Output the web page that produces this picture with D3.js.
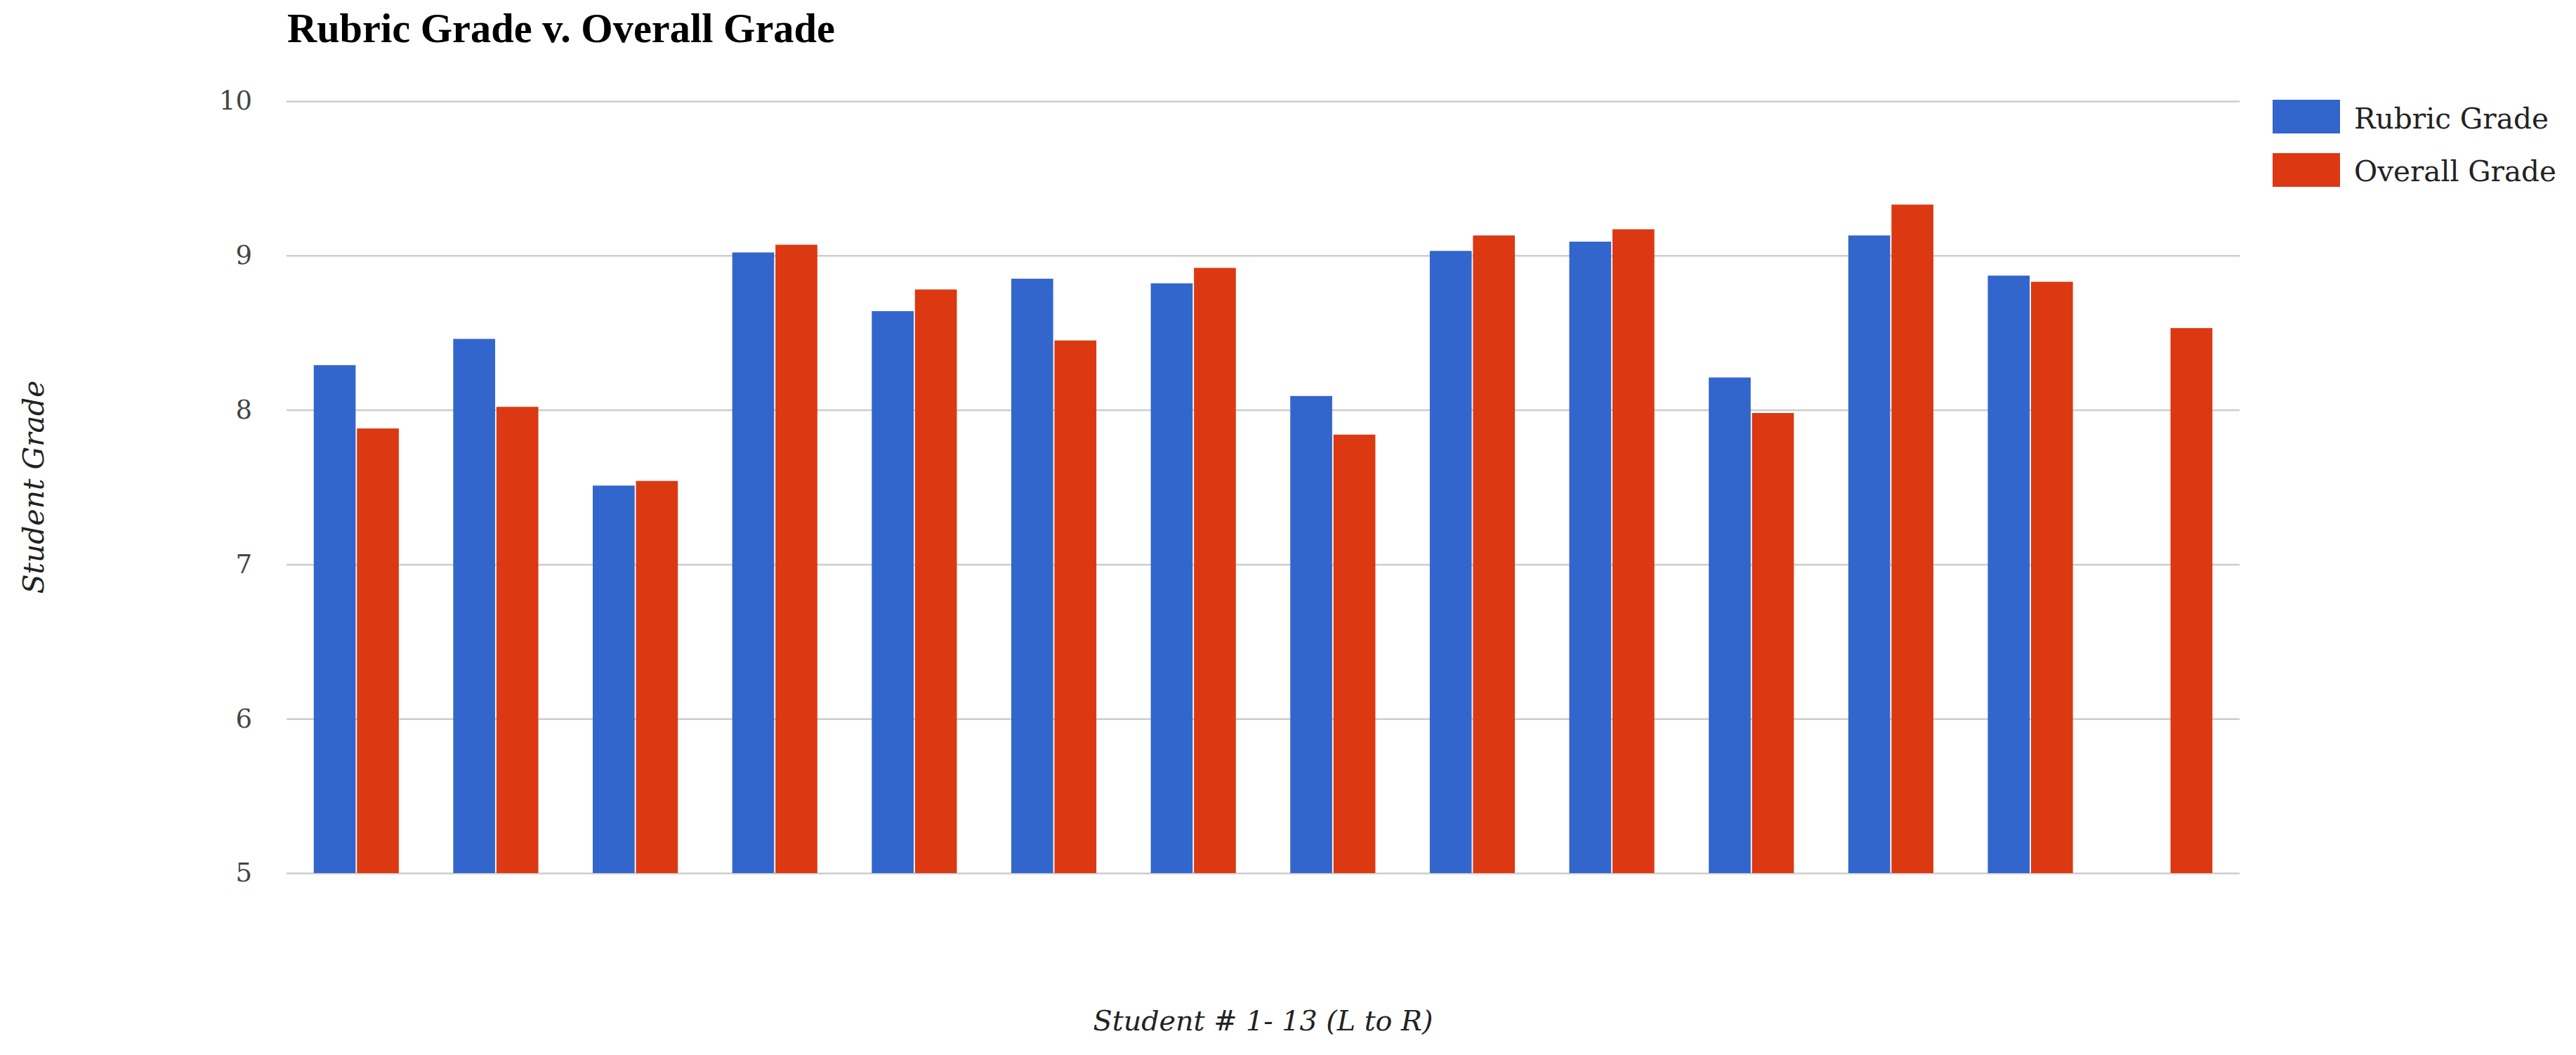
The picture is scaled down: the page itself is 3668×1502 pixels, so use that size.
<!DOCTYPE html>
<html>
<head>
<meta charset="utf-8">
<script src="https://cdn.jsdelivr.net/npm/d3@7"></script>
<style>
  html, body { margin: 0; padding: 0; background: #ffffff; }
  svg { display: block; }
</style>
</head>
<body>
<svg id="chart" width="3668" height="1502"></svg>
<script>
// ---- data ----
const categories = ["1","2","3","4","5","6","7","8","9","10","11","12","13","14"];
const seriesNames = ["Rubric Grade", "Overall Grade"];
const rubricGrade = [8.29, 8.46, 7.51, 9.02, 8.64, 8.85, 8.82, 8.09, 9.03, 9.09, 8.21, 9.13, 8.87, null];
const overallGrade = [7.88, 8.02, 7.54, 9.07, 8.78, 8.45, 8.92, 7.84, 9.13, 9.17, 7.98, 9.33, 8.83, 8.53];
const yTicks = [5, 6, 7, 8, 9, 10];
const titleText = "Rubric Grade v. Overall Grade";
const xTitleText = "Student # 1- 13 (L to R)";
const yTitleText = "Student Grade";

// ---- layout ----
const W = 3668, H = 1502;
const plot = { left: 408, right: 3189, top: 144, bottom: 1243 };
const colors = ["#3366cc", "#dc3912"];
const serif = "'DejaVu Serif', Georgia, serif";

const svg = d3.select("#chart");

function fitText(sel, targetWidth) {
  const node = sel.node();
  const fs = parseFloat(sel.attr("font-size"));
  const w = node.getComputedTextLength();
  if (w > 0) sel.attr("font-size", (fs * targetWidth / w).toFixed(2));
  return sel;
}

const x0 = d3.scaleBand()
  .domain(categories)
  .range([plot.left, plot.right])
  .paddingInner(0.39)
  .paddingOuter(0.195);

const x1 = d3.scaleBand()
  .domain(seriesNames)
  .range([0, x0.bandwidth()])
  .paddingInner(0.03);

const y = d3.scaleLinear()
  .domain([5, 10])
  .range([plot.bottom, plot.top]);

// gridlines
const yAxis = d3.axisLeft(y)
  .tickValues(yTicks)
  .tickSize(-(plot.right - plot.left))
  .tickFormat(d3.format("d"))
  .tickPadding(49);

const gy = svg.append("g")
  .attr("transform", `translate(${plot.left},0)`)
  .call(yAxis);
gy.select(".domain").remove();
gy.selectAll(".tick line").attr("stroke", "#cccccc").attr("stroke-width", 2.5);
gy.selectAll(".tick text")
  .attr("font-family", serif)
  .attr("font-size", 37)
  .attr("fill", "#444444");

// bars
const rows = categories.map((c, i) => ({ cat: c, vals: [rubricGrade[i], overallGrade[i]] }));
const groups = svg.append("g").selectAll("g")
  .data(rows)
  .join("g")
  .attr("transform", d => `translate(${x0(d.cat)},0)`);

groups.selectAll("rect")
  .data(d => d.vals.map((v, j) => ({ key: seriesNames[j], v, j })).filter(e => e.v != null))
  .join("rect")
  .attr("x", e => x1(e.key))
  .attr("width", x1.bandwidth())
  .attr("y", e => y(e.v))
  .attr("height", e => y(5) - y(e.v))
  .attr("fill", e => colors[e.j]);

// title
const title = svg.append("text")
  .attr("x", 409)
  .attr("y", 60)
  .attr("font-family", "'Liberation Serif', 'Times New Roman', serif")
  .attr("font-weight", "bold")
  .attr("font-size", 56)
  .attr("fill", "#000000")
  .text(titleText);
fitText(title, 780);

// axis titles
const xt = svg.append("text")
  .attr("x", (plot.left + plot.right) / 2)
  .attr("y", 1467)
  .attr("text-anchor", "middle")
  .attr("font-family", serif)
  .attr("font-style", "italic")
  .attr("font-size", 38)
  .attr("fill", "#222222")
  .text(xTitleText);
fitText(xt, 484);

const yt = svg.append("text")
  .attr("transform", `translate(62,${(plot.top + plot.bottom) / 2}) rotate(-90)`)
  .attr("text-anchor", "middle")
  .attr("font-family", serif)
  .attr("font-style", "italic")
  .attr("font-size", 38)
  .attr("fill", "#222222")
  .text(yTitleText);
fitText(yt, 304);

// legend
const legend = svg.append("g");
const legendRows = [
  { name: seriesNames[0], color: colors[0], top: 142, base: 183 },
  { name: seriesNames[1], color: colors[1], top: 218, base: 258 }
];
const lg = legend.selectAll("g").data(legendRows).join("g");
lg.append("rect")
  .attr("x", 3236).attr("y", d => d.top)
  .attr("width", 96).attr("height", 48)
  .attr("fill", d => d.color);
lg.append("text")
  .attr("x", 3352).attr("y", d => d.base)
  .attr("font-family", serif)
  .attr("font-size", 40)
  .attr("fill", "#222222")
  .text(d => d.name)
  .each(function(d, i) { fitText(d3.select(this), i === 0 ? 277 : 288); });
</script>
</body>
</html>
